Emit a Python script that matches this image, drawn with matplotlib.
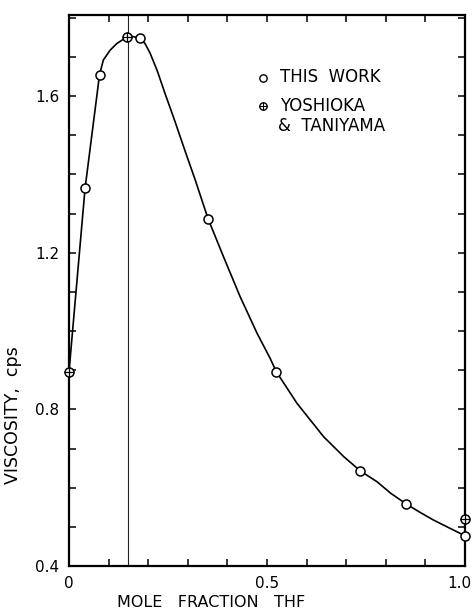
import numpy as np
import matplotlib
matplotlib.use("Agg")
import matplotlib.pyplot as plt
from matplotlib.ticker import MultipleLocator, FixedLocator, FixedFormatter
from matplotlib.transforms import ScaledTranslation

# measured points, this work (open circles)
this_work_x = [0.0405, 0.077, 0.180, 0.351, 0.5235, 0.736, 0.852, 1.000]
this_work_y = [1.364, 1.654, 1.747, 1.287, 0.896, 0.6425, 0.558, 0.477]

# Yoshioka & Taniyama (crossed circles)
yt_x = [0.000, 0.146, 1.000]
yt_y = [0.896, 1.750, 0.521]

# smooth curve
curve_x = [0.000, 0.0405, 0.077, 0.0867, 0.1037, 0.1206, 0.1373, 0.146,
           0.162, 0.180, 0.192, 0.205, 0.223, 0.243, 0.268, 0.293, 0.319,
           0.351, 0.390, 0.432, 0.475, 0.508, 0.5235, 0.576, 0.643, 0.694,
           0.736, 0.778, 0.812, 0.852, 0.888, 0.921, 1.000]
curve_y = [0.896, 1.364, 1.654, 1.692, 1.717, 1.734, 1.745, 1.750,
           1.752, 1.747, 1.734, 1.709, 1.664, 1.605, 1.534, 1.460, 1.385,
           1.287, 1.190, 1.088, 0.994, 0.930, 0.896, 0.815, 0.730, 0.679,
           0.6425, 0.615, 0.586, 0.558, 0.536, 0.517, 0.477]

# composition of the viscosity maximum (vertical line)
x_max = 0.15

x_major = [0.0, 0.5, 1.0]
x_major_labels = ["0", "0.5", "1.0"]
y_major = [0.4, 0.8, 1.2, 1.6]
y_major_labels = ["0.4", "0.8", "1.2", "1.6"]

plt.rcParams["font.family"] = ["DejaVu Sans"]

fig = plt.figure(figsize=(4.73, 6.14), dpi=100)
ax = fig.add_axes([0.1459, 0.0782, 0.8372, 0.8974])

ax.axvline(x_max, color="#222222", lw=0.8, zorder=1)
ax.plot(curve_x, curve_y, color="black", lw=1.2, zorder=2, clip_on=False,
        solid_joinstyle="round")

ax.plot(this_work_x, this_work_y, "o", ms=6.5, mfc="white", mec="black",
        mew=1.1, zorder=4, clip_on=False)
ax.plot(yt_x, yt_y, "o", ms=6.5, mfc="white", mec="black",
        mew=1.1, zorder=4, clip_on=False)
ax.plot(yt_x, yt_y, "+", ms=6.5, mec="black", mew=0.9, zorder=5,
        clip_on=False)

ax.set_xlim(0, 1.0)
ax.set_ylim(0.4, 1.807)

ax.xaxis.set_major_locator(FixedLocator(x_major))
ax.xaxis.set_major_formatter(FixedFormatter(x_major_labels))
ax.xaxis.set_minor_locator(MultipleLocator(0.1))
ax.yaxis.set_major_locator(FixedLocator(y_major))
ax.yaxis.set_major_formatter(FixedFormatter(y_major_labels))
ax.yaxis.set_minor_locator(MultipleLocator(0.1))

ax.tick_params(which="both", direction="in", top=True, right=True,
               length=5, width=1.1, labelsize=11, pad=7)
for sp in ax.spines.values():
    sp.set_linewidth(1.6)

# nudge the "1.0" label left so it stays inside the figure
last = ax.xaxis.get_major_ticks()[-1].label1
last.set_transform(last.get_transform()
                   + ScaledTranslation(-0.06, 0, fig.dpi_scale_trans))

ax.set_xlabel("MOLE   FRACTION   THF", fontsize=11.5)
ax.xaxis.set_label_coords(0.359, -0.052)
ax.set_ylabel("VISCOSITY,  cps", fontsize=12.5)
ax.yaxis.set_label_coords(-0.118, 0.274)

# legend key drawn by hand, as in the original figure
ax.plot([0.491], [0.886], "o", ms=5.3, mfc="white", mec="black", mew=1.0,
        transform=ax.transAxes)
ax.plot([0.489], [0.835], "o", ms=5.3, mfc="white", mec="black", mew=1.0,
        transform=ax.transAxes)
ax.plot([0.489], [0.835], "+", ms=5.3, mec="black", mew=0.8,
        transform=ax.transAxes)
ax.text(0.533, 0.887, "THIS  WORK", fontsize=12, va="center",
        transform=ax.transAxes)
ax.text(0.533, 0.835, "YOSHIOKA", fontsize=12, va="center",
        transform=ax.transAxes)
ax.text(0.529, 0.798, "&  TANIYAMA", fontsize=12, va="center",
        transform=ax.transAxes)

fig.savefig("out.png", dpi=100)
